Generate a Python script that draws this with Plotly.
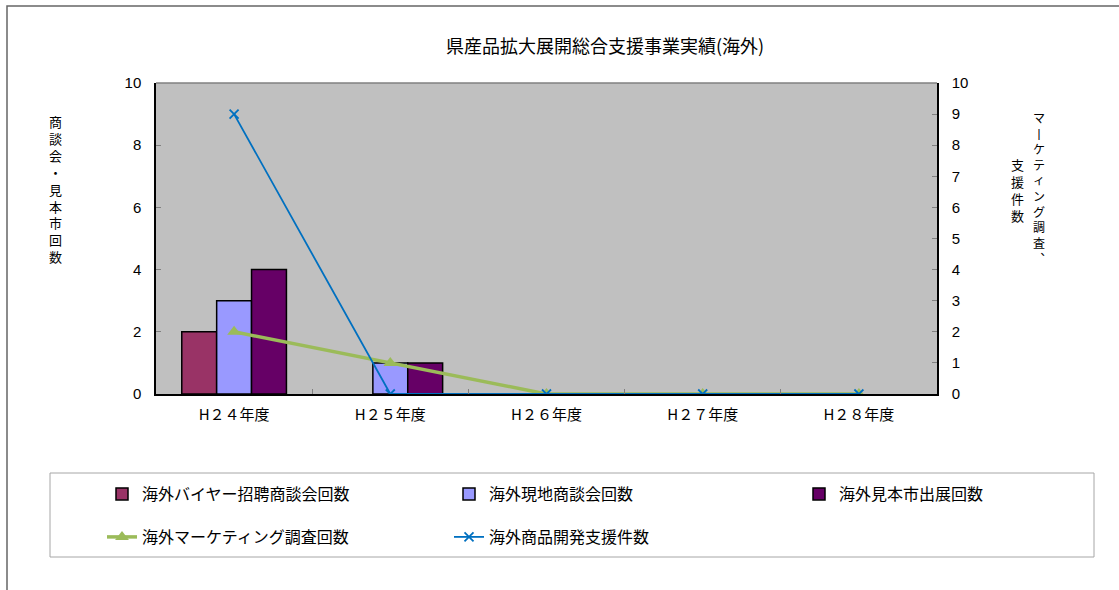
import plotly.graph_objects as go

# ---- data ----
categories = ["H２４年度", "H２５年度", "H２６年度", "H２７年度", "H２８年度"]
buyer_invite = [2, 0, 0, 0, 0]        # 海外バイヤー招聘商談会回数
local_meetings = [3, 1, 0, 0, 0]      # 海外現地商談会回数
trade_fairs = [4, 1, 0, 0, 0]         # 海外見本市出展回数
marketing = [2, 1, 0, 0, 0]           # 海外マーケティング調査回数
product_dev = [9, 0, 0, 0, 0]         # 海外商品開発支援件数

left_ticks = [0, 2, 4, 6, 8, 10]
right_ticks = [0, 1, 2, 3, 4, 5, 6, 7, 8, 9, 10]

title_text = "県産品拡大展開総合支援事業実績(海外)"
left_title = "商談会・見本市回数"
right_title_col1 = "マ丨ケティング調査︑"
right_title_col2 = "支援件数"

# ---- layout geometry (pixels) ----
W, H = 1119, 590
L, R, T, B = 156, 937, 83, 394
PW, PH = R - L, B - T

def xp(px):
    return (px - L) / PW

def yp(py):
    return (B - py) / PH

CJK = "Noto Sans CJK JP"
NUM = "Liberation Sans"

fig = go.Figure()

bar_specs = [
    ("海外バイヤー招聘商談会回数", buyer_invite, "#993366", "legend"),
    ("海外現地商談会回数", local_meetings, "#9999FF", "legend2"),
    ("海外見本市出展回数", trade_fairs, "#660066", "legend3"),
]
for name, vals, color, lg in bar_specs:
    fig.add_trace(go.Bar(
        x=categories, y=vals, name=name, legend=lg,
        marker=dict(color=color,
                    line=dict(color="#000000",
                              width=[1.5 if v > 0 else 0 for v in vals])),
        yaxis="y",
    ))

fig.add_trace(go.Scatter(
    x=categories, y=marketing, name="海外マーケティング調査回数", legend="legend4",
    mode="lines+markers", yaxis="y2",
    line=dict(color="#9BBB59", width=3.5),
    marker=dict(symbol="triangle-up", size=12, color="#9BBB59"),
))
fig.add_trace(go.Scatter(
    x=categories, y=product_dev, name="海外商品開発支援件数", legend="legend5",
    mode="lines+markers", yaxis="y2",
    line=dict(color="#0070C0", width=1.8),
    marker=dict(symbol="x-thin", size=9, line=dict(color="#0070C0", width=1.8)),
))

legend_font = dict(family=CJK, size=16, color="#000000")
def legend_at(px_left, py_mid):
    return dict(x=xp(px_left), y=yp(py_mid), xanchor="left", yanchor="middle",
                orientation="h", bgcolor="rgba(0,0,0,0)", borderwidth=0,
                font=legend_font)

fig.update_layout(
    width=W, height=H,
    margin=dict(l=L, r=W - R, t=T, b=H - B),
    paper_bgcolor="#FFFFFF",
    plot_bgcolor="#C0C0C0",
    barmode="group", bargap=0.33, bargroupgap=0,
    showlegend=True,
    legend=legend_at(102, 494),
    legend2=legend_at(449, 494),
    legend3=legend_at(799, 494),
    legend4=legend_at(102, 537),
    legend5=legend_at(449, 537),
    title=dict(text=title_text, xref="container", yref="container",
               x=605 / W, y=1 - 47 / H, xanchor="center", yanchor="middle",
               font=dict(family=CJK, size=18, color="#000000")),
    xaxis=dict(
        type="category", showgrid=False, showline=True, linecolor="#000000", linewidth=1.5,
        ticks="inside", ticklen=5, tickcolor="#808080", tickson="boundaries",
        tickfont=dict(family=CJK, size=15, color="#000000"),
        ticklabelstandoff=6,
    ),
    yaxis=dict(
        range=[0, 10], tickvals=left_ticks, showgrid=False, zeroline=False,
        showline=True, linecolor="#000000", linewidth=1.5,
        ticks="inside", ticklen=5, tickcolor="#808080",
        tickfont=dict(family=NUM, size=15, color="#000000"),
        ticklabelstandoff=10,
    ),
    yaxis2=dict(
        range=[0, 10], tickvals=right_ticks, overlaying="y", side="right",
        showgrid=False, zeroline=False,
        showline=True, linecolor="#000000", linewidth=1.5,
        ticks="inside", ticklen=5, tickcolor="#808080",
        tickfont=dict(family=NUM, size=15, color="#000000"),
        ticklabelstandoff=10,
    ),
)

shapes = [
    # top edge of the plot area
    dict(type="line", xref="paper", yref="paper", x0=0, x1=1, y0=1, y1=1,
         line=dict(color="#808080", width=1.5)),
    # legend frame
    dict(type="rect", xref="paper", yref="paper",
         x0=xp(50), x1=xp(1094), y0=yp(557), y1=yp(473),
         line=dict(color="#A6A6A6", width=1)),
    # outer chart frame
    dict(type="rect", xref="paper", yref="paper",
         x0=xp(7), x1=xp(1140), y0=yp(610), y1=yp(6),
         line=dict(color="#666666", width=1.5)),
]
fig.update_layout(shapes=shapes)

# vertical axis titles: one character per line
def vertical_text(text, px_x, py_center, size):
    return dict(
        text="<br>".join(text), x=xp(px_x), y=yp(py_center),
        xref="paper", yref="paper", xanchor="center", yanchor="middle",
        showarrow=False, align="center",
        font=dict(family=CJK, size=size, color="#000000"),
    )

annotations = [
    vertical_text(left_title, 55, 189, 13),
    vertical_text(right_title_col1, 1039, 187, 12),
    vertical_text(right_title_col2, 1017, 190, 13),
]
fig.update_layout(annotations=annotations)

fig.write_html("out.html")
